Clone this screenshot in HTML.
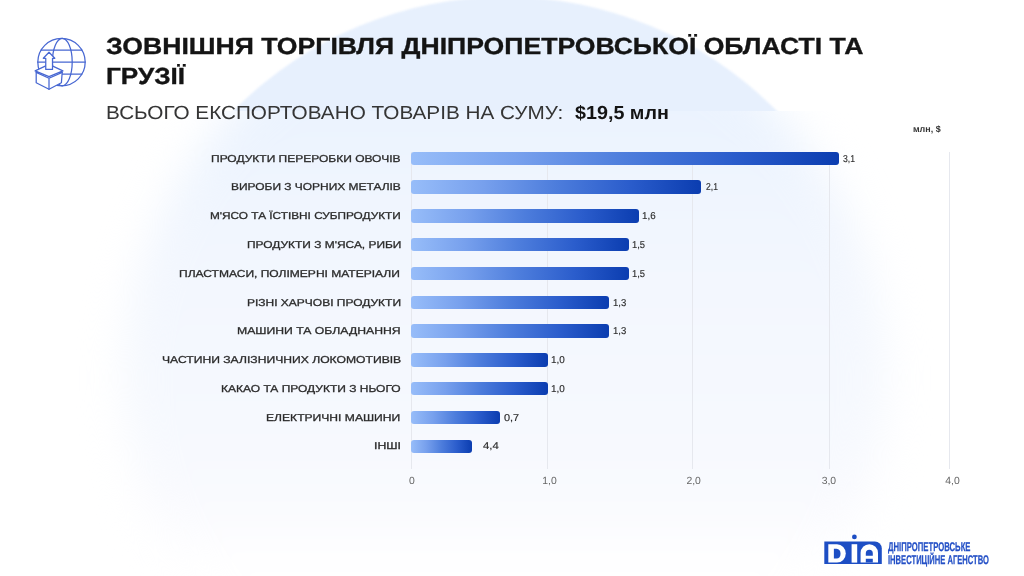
<!DOCTYPE html>
<html lang="uk"><head><meta charset="utf-8">
<style>
html,body{margin:0;padding:0}
body{width:1024px;height:576px;position:relative;overflow:hidden;background:#fff;
font-family:"Liberation Sans",Arial,sans-serif;text-rendering:geometricPrecision}
.t{position:absolute;white-space:nowrap;transform-origin:0 0}
.bar{position:absolute;height:13.4px;border-radius:3px;
background:linear-gradient(90deg,#97bdf9 0%,#77a0ed 25%,#4d7ddc 50%,#2b5dcc 75%,#0b3db0 100%)}
.gl{position:absolute;top:152px;height:317px;width:1px;background:#e6e8ee}
.ax{position:absolute;width:40px;text-align:center;font-size:10.4px;line-height:10.4px;color:#666;transform:translateZ(0)}
#bgtop{position:absolute;left:0;top:0;width:1024px;height:111px;overflow:hidden}
#bgtop .c{position:absolute;left:124px;top:-3px;width:762px;height:762px;border-radius:50%;background:#e7f0fd;filter:blur(1.2px)}
#bgbot{position:absolute;left:0;top:111px;width:1024px;height:465px;overflow:hidden}
#bgbot .c{position:absolute;left:124px;top:-114px;width:762px;height:762px;border-radius:50%;
background:linear-gradient(180deg,#ebf3fe 113px,#eff5fe 180px,#f3f7fe 280px,#f6f9fe 420px,#f9fafe 500px,#fdfdff 545px,#fff 570px);filter:blur(20px)}
</style></head><body>
<div id="bgtop"><div class="c"></div></div>
<div id="bgbot"><div class="c"></div></div>

<svg style="position:absolute;left:30px;top:34px" width="60" height="60" viewBox="0 0 60 60"
 fill="none" stroke="#4767d2" stroke-width="1.25" stroke-linejoin="round" stroke-linecap="round">
 <circle cx="31.5" cy="28.1" r="23.7"/>
 <ellipse cx="32.3" cy="28.1" rx="9.9" ry="23.7"/>
 <line x1="11.1" y1="16.1" x2="51.9" y2="16.1"/>
 <line x1="7.8" y1="28.1" x2="55.2" y2="28.1"/>
 <line x1="11.1" y1="40.1" x2="51.9" y2="40.1"/>
 <path d="M6.2 38.4 L6.2 48.8 L19 55.3 L31.4 48.8 L32.2 38.4 Z" fill="#fff"/>
 <path d="M5.1 36.9 L19 30.4 L32.9 36.9 L19 42.6 Z" fill="#fff"/>
 <path d="M6.2 38.4 L19 44.2 L32.2 38.4 M19 44.2 L19 55.3"/>
 <path d="M15.75 35.4 L15.75 24.3 L13.3 24.3 L19 18.2 L24.8 24.3 L22.5 24.3 L22.5 35.4 Z" fill="#fff"/>
</svg>

<div class="t" style="left:105.60px;top:34.73px;font-size:23.3px;line-height:23.3px;font-weight:700;color:#141414;transform:scaleX(1.1419);-webkit-text-stroke:0.35px #141414;">ЗОВНІШНЯ ТОРГІВЛЯ ДНІПРОПЕТРОВСЬКОЇ ОБЛАСТІ ТА</div>
<div class="t" style="left:106.18px;top:64.63px;font-size:23.3px;line-height:23.3px;font-weight:700;color:#141414;transform:scaleX(1.1211);-webkit-text-stroke:0.35px #141414;">ГРУЗІЇ</div>
<div class="t" style="left:106.30px;top:105.00px;font-size:18.9px;line-height:18.9px;font-weight:400;color:#353535;transform:scaleX(1.0973);">ВСЬОГО ЕКСПОРТОВАНО ТОВАРІВ НА СУМУ:</div>
<div class="t" style="left:575.20px;top:105.00px;font-size:18.9px;line-height:18.9px;font-weight:700;color:#141414;transform:scaleX(1.0438);">$19,5 млн</div>
<div class="t" style="left:913.40px;top:124.58px;font-size:9.0px;line-height:9.0px;font-weight:700;color:#333;transform:scaleX(0.9929);">млн, $</div>

<div class="gl" style="left:410.50px"></div>
<div class="ax" style="left:391.90px;top:477.10px">0</div>
<div class="gl" style="left:547.20px"></div>
<div class="ax" style="left:529.50px;top:477.10px">1,0</div>
<div class="gl" style="left:692.00px"></div>
<div class="ax" style="left:673.70px;top:477.10px">2,0</div>
<div class="gl" style="left:829.20px"></div>
<div class="ax" style="left:808.90px;top:477.10px">3,0</div>
<div class="gl" style="left:949.00px"></div>
<div class="ax" style="left:932.50px;top:477.10px">4,0</div>

<div class="bar" style="left:411px;top:151.70px;width:427.70px"></div>
<div class="bar" style="left:411px;top:180.48px;width:290.10px"></div>
<div class="bar" style="left:411px;top:209.26px;width:227.70px"></div>
<div class="bar" style="left:411px;top:238.04px;width:217.90px"></div>
<div class="bar" style="left:411px;top:266.82px;width:217.90px"></div>
<div class="bar" style="left:411px;top:295.60px;width:198.00px"></div>
<div class="bar" style="left:411px;top:324.38px;width:198.00px"></div>
<div class="bar" style="left:411px;top:353.16px;width:136.70px"></div>
<div class="bar" style="left:411px;top:381.94px;width:136.70px"></div>
<div class="bar" style="left:411px;top:410.72px;width:88.80px"></div>
<div class="bar" style="left:411px;top:439.50px;width:61.40px"></div>

<div class="t" style="left:211.10px;top:154.63px;font-size:10px;line-height:10px;font-weight:400;color:#2b2b2b;transform:scaleX(1.2000);-webkit-text-stroke:0.3px #2b2b2b;">ПРОДУКТИ ПЕРЕРОБКИ ОВОЧІВ</div>
<div class="t" style="left:231.00px;top:183.41px;font-size:10px;line-height:10px;font-weight:400;color:#2b2b2b;transform:scaleX(1.1951);-webkit-text-stroke:0.3px #2b2b2b;">ВИРОБИ З ЧОРНИХ МЕТАЛІВ</div>
<div class="t" style="left:209.50px;top:212.19px;font-size:10px;line-height:10px;font-weight:400;color:#2b2b2b;transform:scaleX(1.1802);-webkit-text-stroke:0.3px #2b2b2b;">М'ЯСО ТА ЇСТІВНІ СУБПРОДУКТИ</div>
<div class="t" style="left:246.80px;top:240.97px;font-size:10px;line-height:10px;font-weight:400;color:#2b2b2b;transform:scaleX(1.1930);-webkit-text-stroke:0.3px #2b2b2b;">ПРОДУКТИ З М'ЯСА, РИБИ</div>
<div class="t" style="left:179.40px;top:269.76px;font-size:10px;line-height:10px;font-weight:400;color:#2b2b2b;transform:scaleX(1.2027);-webkit-text-stroke:0.3px #2b2b2b;">ПЛАСТМАСИ, ПОЛІМЕРНІ МАТЕРІАЛИ</div>
<div class="t" style="left:247.30px;top:298.54px;font-size:10px;line-height:10px;font-weight:400;color:#2b2b2b;transform:scaleX(1.1984);-webkit-text-stroke:0.3px #2b2b2b;">РІЗНІ ХАРЧОВІ ПРОДУКТИ</div>
<div class="t" style="left:237.10px;top:327.31px;font-size:10px;line-height:10px;font-weight:400;color:#2b2b2b;transform:scaleX(1.2209);-webkit-text-stroke:0.3px #2b2b2b;">МАШИНИ ТА ОБЛАДНАННЯ</div>
<div class="t" style="left:161.60px;top:356.10px;font-size:10px;line-height:10px;font-weight:400;color:#2b2b2b;transform:scaleX(1.2137);-webkit-text-stroke:0.3px #2b2b2b;">ЧАСТИНИ ЗАЛІЗНИЧНИХ ЛОКОМОТИВІВ</div>
<div class="t" style="left:220.70px;top:384.88px;font-size:10px;line-height:10px;font-weight:400;color:#2b2b2b;transform:scaleX(1.2000);-webkit-text-stroke:0.3px #2b2b2b;">КАКАО ТА ПРОДУКТИ З НЬОГО</div>
<div class="t" style="left:266.40px;top:413.66px;font-size:10px;line-height:10px;font-weight:400;color:#2b2b2b;transform:scaleX(1.2099);-webkit-text-stroke:0.3px #2b2b2b;">ЕЛЕКТРИЧНІ МАШИНИ</div>
<div class="t" style="left:373.60px;top:442.44px;font-size:10px;line-height:10px;font-weight:400;color:#2b2b2b;transform:scaleX(1.2318);-webkit-text-stroke:0.3px #2b2b2b;">ІНШІ</div>
<div class="t" style="left:843.30px;top:154.63px;font-size:10px;line-height:10px;font-weight:400;color:#2b2b2b;transform:scaleX(0.8643);-webkit-text-stroke:0.15px #2b2b2b;">3,1</div>
<div class="t" style="left:706.00px;top:183.41px;font-size:10px;line-height:10px;font-weight:400;color:#2b2b2b;transform:scaleX(0.8571);-webkit-text-stroke:0.15px #2b2b2b;">2,1</div>
<div class="t" style="left:642.32px;top:212.19px;font-size:10px;line-height:10px;font-weight:400;color:#2b2b2b;transform:scaleX(0.9769);-webkit-text-stroke:0.15px #2b2b2b;">1,6</div>
<div class="t" style="left:632.36px;top:240.97px;font-size:10px;line-height:10px;font-weight:400;color:#2b2b2b;transform:scaleX(0.9385);-webkit-text-stroke:0.15px #2b2b2b;">1,5</div>
<div class="t" style="left:632.36px;top:269.76px;font-size:10px;line-height:10px;font-weight:400;color:#2b2b2b;transform:scaleX(0.9385);-webkit-text-stroke:0.15px #2b2b2b;">1,5</div>
<div class="t" style="left:612.65px;top:298.54px;font-size:10px;line-height:10px;font-weight:400;color:#2b2b2b;transform:scaleX(0.9538);-webkit-text-stroke:0.15px #2b2b2b;">1,3</div>
<div class="t" style="left:612.65px;top:327.31px;font-size:10px;line-height:10px;font-weight:400;color:#2b2b2b;transform:scaleX(0.9538);-webkit-text-stroke:0.15px #2b2b2b;">1,3</div>
<div class="t" style="left:551.31px;top:356.10px;font-size:10px;line-height:10px;font-weight:400;color:#2b2b2b;transform:scaleX(0.9923);-webkit-text-stroke:0.15px #2b2b2b;">1,0</div>
<div class="t" style="left:551.31px;top:384.88px;font-size:10px;line-height:10px;font-weight:400;color:#2b2b2b;transform:scaleX(0.9923);-webkit-text-stroke:0.15px #2b2b2b;">1,0</div>
<div class="t" style="left:504.30px;top:413.66px;font-size:10px;line-height:10px;font-weight:400;color:#2b2b2b;transform:scaleX(1.0929);-webkit-text-stroke:0.15px #2b2b2b;">0,7</div>
<div class="t" style="left:482.80px;top:442.44px;font-size:10px;line-height:10px;font-weight:400;color:#2b2b2b;transform:scaleX(1.1357);-webkit-text-stroke:0.15px #2b2b2b;">4,4</div>

<svg style="position:absolute;left:820px;top:530px" width="66" height="40" viewBox="0 0 66 40">
 <path fill="#1d4ec4" d="M4.3 11.5 H54.8 A7 7 0 0 1 61.8 18.5 V33.9 H4.3 Z"/>
 <circle cx="34.4" cy="6.9" r="2.4" fill="#1d4ec4"/>
 <path fill="#fff" d="M8.3 14.2 H17 A8.8 9.2 0 0 1 17 32.6 H8.3 Z"/>
 <path fill="#1d4ec4" d="M13.9 18.75 H16.5 A4.5 4.9 0 0 1 16.5 28.5 H13.9 Z"/>
 <rect x="31.6" y="14.2" width="5.6" height="18.4" fill="#fff"/>
 <path fill="#fff" d="M40.6 32.6 V23 A8.7 8.8 0 0 1 58 23 V32.6 Z"/>
 <path fill="#1d4ec4" d="M45.8 25.7 V23.3 A3.5 3.5 0 0 1 52.8 23.3 V25.7 Z M45.8 28.8 H52.8 V32.6 H45.8 Z"/>
</svg>
<div class="t" style="left:887.80px;top:541.33px;font-size:12.6px;line-height:12.6px;font-weight:700;color:#2450c6;transform:scaleX(0.6126);-webkit-text-stroke:0.25px #2450c6;">ДНІПРОПЕТРОВСЬКЕ</div>
<div class="t" style="left:887.80px;top:553.93px;font-size:12.6px;line-height:12.6px;font-weight:700;color:#2450c6;transform:scaleX(0.6042);-webkit-text-stroke:0.25px #2450c6;">ІНВЕСТИЦІЙНЕ АГЕНСТВО</div>

</body></html>
